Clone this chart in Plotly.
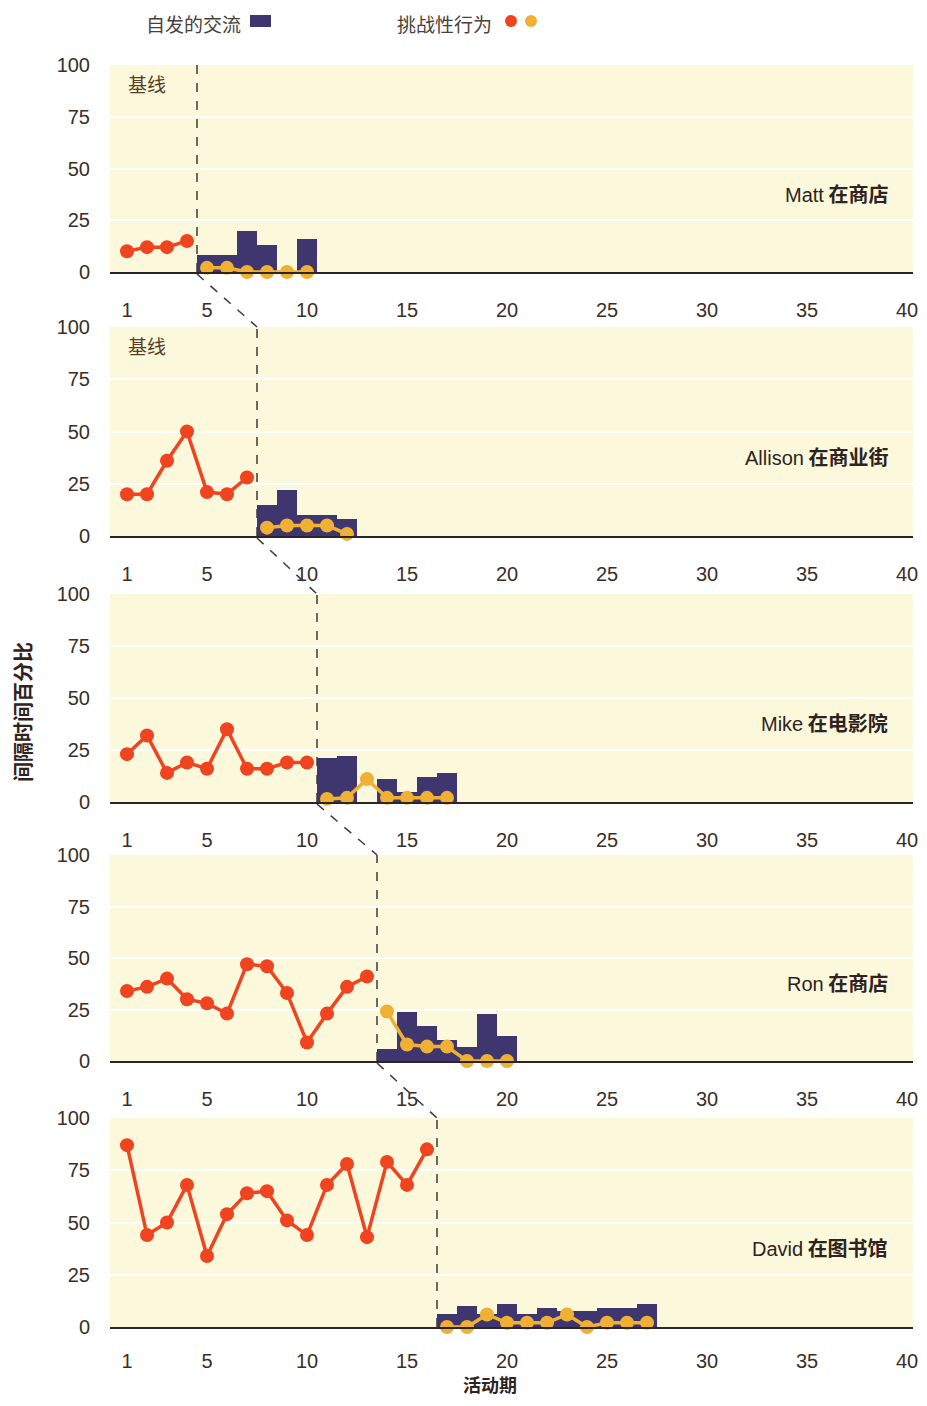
import plotly.graph_objects as go
from plotly.subplots import make_subplots

# page window is 927x1406; the browser body adds an 8px margin on every side,
# so the figure is sized to fit inside it and positions are shifted by 8px.
OFF = 8
FW, FH = 927 - 2 * OFF, 1406 - 2 * OFF


def px_x(x):
    return (x - OFF) / FW


def px_y(y):
    return 1 - (y - OFF) / FH


# ---------------- data ----------------
names = ["Matt 在商店", "Allison 在商业街", "Mike 在电影院", "Ron 在商店", "David 在图书馆"]

# baseline (challenging behaviour, red)
matt_base = [10, 12, 12, 15]
allison_base = [20, 20, 36, 50, 21, 20, 28]
mike_base = [23, 32, 14, 19, 16, 35, 16, 16, 19, 19]
ron_base = [34, 36, 40, 30, 28, 23, 47, 46, 33, 9, 23, 36, 41]
david_base = [87, 44, 50, 68, 34, 54, 64, 65, 51, 44, 68, 78, 43, 79, 68, 85]

# intervention: spontaneous communication (bars)
matt_comm = [8, 8, 20, 13, 0, 16]
allison_comm = [15, 22, 10, 10, 8]
mike_comm = [21, 22, 0, 11, 5, 12, 14]
ron_comm = [6, 24, 17, 10, 7, 23, 12]
david_comm = [6, 10, 6, 11, 6, 9, 7.5, 7.5, 9, 9, 11]

# intervention: challenging behaviour (yellow)
matt_chal = [2, 2, 0, 0, 0, 0]
allison_chal = [4, 5, 5, 5, 1]
mike_chal = [1.5, 2, 11, 2, 2, 2, 2]
ron_chal = [24, 8, 7, 7, 0, 0, 0]
david_chal = [0, 0, 6, 2, 2, 2, 6, 0, 2, 2, 2]

baselines = [matt_base, allison_base, mike_base, ron_base, david_base]
comms = [matt_comm, allison_comm, mike_comm, ron_comm, david_comm]
chals = [matt_chal, allison_chal, mike_chal, ron_chal, david_chal]

x_ticks = [1, 5, 10, 15, 20, 25, 30, 35, 40]
y_ticks = [0, 25, 50, 75, 100]

# ---------------- style ----------------
RED = "#f0431f"
YEL = "#efb034"
NAVY = "#40366f"
BG = "#fbf8dc"
TXT = "#3a2e28"
SANS = "Liberation Sans, Arial, sans-serif"
CJK = "Noto Sans CJK SC"

# panel pixel extents (top, bottom) of the plotting area, in window pixels
panels_px = [(65, 272), (327, 536), (594, 802), (855, 1061), (1118, 1327)]
x_left, x_right = 110, 913

fig = make_subplots(rows=5, cols=1)

for i in range(5):
    r = i + 1
    base = baselines[i]
    nb = len(base)
    xb = list(range(1, nb + 1))
    xi = list(range(nb + 1, nb + 1 + len(comms[i])))
    fig.add_trace(go.Bar(x=xi, y=comms[i], width=1.0, marker=dict(color=NAVY, line=dict(width=0)),
                         showlegend=False, hoverinfo="skip"), row=r, col=1)
    fig.add_trace(go.Scatter(x=xb, y=base, mode="lines+markers", line=dict(color=RED, width=3.5),
                             marker=dict(color=RED, size=14), cliponaxis=False, showlegend=False),
                  row=r, col=1)
    fig.add_trace(go.Scatter(x=xi, y=chals[i], mode="lines+markers", line=dict(color=YEL, width=3.5),
                             marker=dict(color=YEL, size=14), cliponaxis=False, showlegend=False),
                  row=r, col=1)

    top, bot = panels_px[i]
    ax = "" if r == 1 else str(r)
    fig.layout["xaxis" + ax].update(
        domain=[px_x(x_left), px_x(x_right)], range=[0.15, 40.3], automargin=False,
        tickvals=x_ticks, ticktext=[str(t) for t in x_ticks], ticklabeloverflow="allow",
        ticks="outside", ticklen=(15 if r == 5 else 19), tickcolor="rgba(0,0,0,0)",
        tickfont=dict(family=SANS, size=20, color=TXT),
        showgrid=False, zeroline=False, showline=True, linecolor="#2b2625", linewidth=2,
    )
    fig.layout["yaxis" + ax].update(
        domain=[px_y(bot), px_y(top)], range=[0, 100], automargin=False,
        tickvals=y_ticks, ticktext=[str(t) for t in y_ticks], ticklabeloverflow="allow",
        ticks="outside", ticklen=15, tickcolor="rgba(0,0,0,0)",
        tickfont=dict(family=SANS, size=20, color=TXT),
        showgrid=True, gridcolor="white", gridwidth=2, zeroline=False, showline=False,
    )

    # phase-change line
    phase = nb + 0.5
    fig.add_shape(type="line", xref="x" + ax, yref="y" + ax, x0=phase, x1=phase, y0=0, y1=100,
                  line=dict(color="#3d3a38", width=1.5, dash="dash"))
    # connector to next panel
    if i < 4:
        nphase = len(baselines[i + 1]) + 0.5
        fig.add_shape(type="line", xref="x", yref="paper", x0=phase, x1=nphase,
                      y0=px_y(bot + 2), y1=px_y(panels_px[i + 1][0]),
                      line=dict(color="#3d3a38", width=1.5, dash="dash"))

    # participant label
    nm, place = names[i].split(" ", 1)
    fig.add_annotation(xref="x" + ax + " domain", yref="y" + ax, x=0.971, y=38,
                       xanchor="right", yanchor="middle", showarrow=False,
                       text=f"<span style='font-family:{SANS}'>{nm}</span> <b>{place}</b>",
                       font=dict(family=CJK, size=20, color="#2e2320"))
    if i < 2:
        fig.add_annotation(xref="x" + ax, yref="y" + ax, x=2.0, y=91, xanchor="center", yanchor="middle",
                           showarrow=False,
                           text="基线", font=dict(family=CJK, size=19, color="#5a3d24"))

# axis titles
fig.add_annotation(xref="paper", yref="paper", x=px_x(22), y=px_y(712), xanchor="center", yanchor="middle",
                   showarrow=False, textangle=-90,
                   text="<b>间隔时间百分比</b>", font=dict(family=CJK, size=20, color="#2e2320"))
fig.add_annotation(xref="paper", yref="paper", x=px_x(490), y=px_y(1384), xanchor="center", yanchor="middle",
                   showarrow=False, borderpad=0,
                   text="<b>活动期</b>", font=dict(family=CJK, size=18, color="#2e2320"))

# legend (text followed by symbols)
fig.add_annotation(xref="paper", yref="paper", x=px_x(243), y=px_y(23), xanchor="right", yanchor="middle",
                   showarrow=False, text="自发的交流", font=dict(family=CJK, size=19, color="#4a3f3a"))
fig.add_shape(type="rect", xref="paper", yref="paper", x0=px_x(250), x1=px_x(271), y0=px_y(27), y1=px_y(15),
              fillcolor=NAVY, line=dict(width=0))
fig.add_annotation(xref="paper", yref="paper", x=px_x(494), y=px_y(23), xanchor="right", yanchor="middle",
                   showarrow=False, text="挑战性行为", font=dict(family=CJK, size=19, color="#4a3f3a"))
fig.add_shape(type="circle", xref="paper", yref="paper", x0=px_x(505), x1=px_x(517), y0=px_y(27), y1=px_y(15),
              fillcolor=RED, line=dict(width=0))
fig.add_shape(type="circle", xref="paper", yref="paper", x0=px_x(525), x1=px_x(537), y0=px_y(27), y1=px_y(15),
              fillcolor=YEL, line=dict(width=0))

fig.update_layout(width=FW, height=FH, margin=dict(l=0, r=0, t=0, b=0, pad=0, autoexpand=False),
                  paper_bgcolor="white", plot_bgcolor=BG, bargap=0, showlegend=False)

fig.write_html("out.html")
